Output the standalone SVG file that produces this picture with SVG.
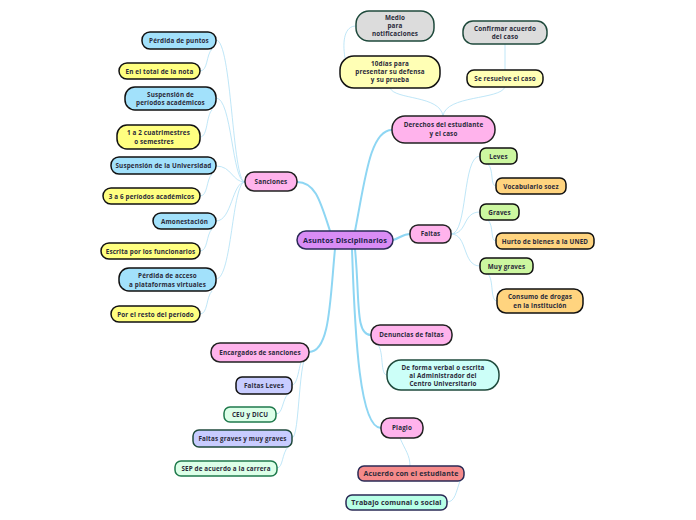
<svg xmlns="http://www.w3.org/2000/svg" width="696" height="520" viewBox="0 0 696 520">
<style>
.n rect{stroke-width:1.5}
text{font-family:"Open Sans","Liberation Sans",sans-serif;font-size:6.3px;font-weight:700;fill:#2a2a3a;text-anchor:middle;letter-spacing:0.15px}
.pk{fill:#ffb3ec;stroke:#222}
.bl{fill:#a2e1fb;stroke:#111}
.yl{fill:#ffff80;stroke:#111}
.py{fill:#ffffb5;stroke:#111}
.gr{fill:#dcdcdc;stroke:#1f4a3c}
.lg{fill:#ccf7a0;stroke:#111}
.or{fill:#ffd47f;stroke:#111}
.cy{fill:#ccfff8;stroke:#1f4a3c}
.sa{fill:#f58a8a;stroke:#2a2a55}
.mt{fill:#b8ffe6;stroke:#2a2a55}
.lv{fill:#c8ccff;stroke:#111}
.lv2{fill:#c8ccff;stroke:#1f4a3c}
.pg{fill:#dcffe8;stroke:#1f7a4c}
.c path{fill:none;stroke:#aee0f5;stroke-width:0.8}
.c .m{stroke:#8ed6f3;stroke-width:2}
</style>
<g class="c" id="connectors">
<path class="m" d="M330,231 C320,200 315,182 297,182"/>
<path class="m" d="M355,231 C365,180 370,130 392,130"/>
<path class="m" d="M393,240 C400,238 403,234 410,234"/>
<path class="m" d="M355,249 C360,300 355,335 371,335"/>
<path class="m" d="M352,249 C355,340 360,428 381,428"/>
<path class="m" d="M335,249 C330,300 330,352 309,352"/>
<path d="M245,182 C232,182 232,40 216,40"/>
<path d="M245,182 C232,182 232,98 216,98"/>
<path d="M245,182 C232,182 232,166 216,166"/>
<path d="M245,182 C232,182 232,221 216,221"/>
<path d="M245,182 C232,182 232,279 216,279"/>
<path d="M212,49 C206,55 208,71 200,71"/>
<path d="M212,110 C206,116 208,137 200,137"/>
<path d="M212,174 C206,180 208,196 200,196"/>
<path d="M212,229 C206,235 208,251 200,251"/>
<path d="M212,291 C206,297 208,314 200,314"/>
<path d="M443,116 C440,95 395,100 390,88"/>
<path d="M443,116 C446,95 500,100 505,87"/>
<path d="M345,58 C342,40 345,26 356,26"/>
<path d="M505,44 L505,70"/>
<path d="M451,234 C468,234 462,156 480,156"/>
<path d="M451,234 C468,234 462,212 480,212"/>
<path d="M451,234 C468,234 462,266 480,266"/>
<path d="M488,164 C494,170 490,186 496,186"/>
<path d="M488,220 C494,226 490,241 496,241"/>
<path d="M488,274 C494,280 490,301 497,301"/>
<path d="M378,345 C384,352 380,375 387,375"/>
<path d="M400,438 C405,450 410,455 410,466"/>
<path d="M460,481 C456,492 455,502 447,502"/>
<path d="M309,352 C298,352 300,385 292,385"/>
<path d="M309,352 C298,352 300,438 292,438"/>
<path d="M288,394 C282,400 283,414 276,414"/>
<path d="M288,447 C282,453 283,468 277,468"/>
</g>
<g id="center" class="n"><rect x="297" y="231" width="96" height="18" rx="9" fill="#d98cf5" stroke="#2a2a55"/><text x="345" y="243" style="font-size:7.3px;fill:#22224a">Asuntos Disciplinarios</text></g>
<g id="sanciones" class="n"><rect class="pk" x="245" y="172" width="52" height="19" rx="9"/><text x="271" y="184">Sanciones</text></g>
<g id="perdida-puntos" class="n"><rect class="bl" x="142" y="32" width="74" height="17" rx="8"/><text x="179" y="43">Pérdida de puntos</text></g>
<g id="total-nota" class="n"><rect class="yl" x="119" y="63" width="81" height="16" rx="8"/><text x="159.5" y="74">En el total de la nota</text></g>
<g id="susp-periodos" class="n"><rect class="bl" x="125" y="87" width="91" height="23" rx="10"/><text x="170.5" y="97">Suspensión de</text><text x="170.5" y="105">períodos académicos</text></g>
<g id="cuatrimestres" class="n"><rect class="yl" x="117" y="125" width="83" height="24" rx="10"/><text x="158.5" y="135">1 a 2 cuatrimestres</text><text x="154" y="144">o semestres</text></g>
<g id="susp-univ" class="n"><rect class="bl" x="111" y="157" width="105" height="17" rx="8"/><text x="163.5" y="168">Suspensión de la Universidad</text></g>
<g id="seis-periodos" class="n"><rect class="yl" x="103" y="188" width="97" height="16" rx="8"/><text x="151.5" y="199">3 a 6 períodos académicos</text></g>
<g id="amonestacion" class="n"><rect class="bl" x="153" y="213" width="63" height="16" rx="8"/><text x="184.5" y="224">Amonestación</text></g>
<g id="escrita" class="n"><rect class="yl" x="101" y="243" width="99" height="16" rx="8"/><text x="150.5" y="254">Escrita por los funcionarios</text></g>
<g id="perdida-acceso" class="n"><rect class="bl" x="119" y="268" width="97" height="23" rx="10"/><text x="167.5" y="278">Pérdida de acceso</text><text x="167.5" y="287">a plataformas virtuales</text></g>
<g id="resto-periodo" class="n"><rect class="yl" x="111" y="306" width="89" height="16" rx="8"/><text x="155.5" y="317">Por el resto del período</text></g>
<g id="derechos" class="n"><rect class="pk" x="392" y="116" width="103" height="27" rx="13"/><text x="443.5" y="127">Derechos del estudiante</text><text x="443.5" y="136">y el caso</text></g>
<g id="diez-dias" class="n"><rect class="py" x="340" y="56" width="100" height="32" rx="14"/><text x="390" y="66">10días para</text><text x="390" y="74">presentar su defensa</text><text x="390" y="82">y su prueba</text></g>
<g id="medio" class="n"><rect class="gr" x="356" y="11" width="78" height="30" rx="13"/><text x="395" y="20">Medio</text><text x="395" y="28">para</text><text x="395" y="36">notificaciones</text></g>
<g id="confirmar" class="n"><rect class="gr" x="463" y="21" width="84" height="23" rx="10"/><text x="505" y="31">Confirmar acuerdo</text><text x="505" y="39">del caso</text></g>
<g id="se-resuelve" class="n"><rect class="py" x="467" y="70" width="76" height="17" rx="7"/><text x="505" y="81">Se resuelve el caso</text></g>
<g id="faltas" class="n"><rect class="pk" x="410" y="225" width="41" height="18" rx="8"/><text x="430.5" y="236">Faltas</text></g>
<g id="leves" class="n"><rect class="lg" x="480" y="148" width="37" height="16" rx="6"/><text x="498.5" y="159">Leves</text></g>
<g id="vocabulario" class="n"><rect class="or" x="496" y="178" width="70" height="16" rx="6"/><text x="531" y="189">Vocabulario soez</text></g>
<g id="graves" class="n"><rect class="lg" x="480" y="204" width="39" height="16" rx="6"/><text x="499.5" y="215">Graves</text></g>
<g id="hurto" class="n"><rect class="or" x="496" y="233" width="98" height="16" rx="6"/><text x="545" y="244">Hurto de bienes a la UNED</text></g>
<g id="muy-graves" class="n"><rect class="lg" x="480" y="258" width="53" height="16" rx="6"/><text x="506.5" y="269">Muy graves</text></g>
<g id="consumo" class="n"><rect class="or" x="497" y="289" width="86" height="24" rx="9"/><text x="540" y="299">Consumo de drogas</text><text x="540" y="308">en la institución</text></g>
<g id="denuncias" class="n"><rect class="pk" x="371" y="325" width="81" height="20" rx="9"/><text x="411.5" y="337">Denuncias de faltas</text></g>
<g id="forma-verbal" class="n"><rect class="cy" x="387" y="360" width="112" height="30" rx="14"/><text x="443" y="370">De forma verbal o escrita</text><text x="443" y="378">al Administrador del</text><text x="443" y="386">Centro Universitario</text></g>
<g id="plagio" class="n"><rect class="pk" x="381" y="418" width="42" height="20" rx="9"/><text x="402" y="430">Plagio</text></g>
<g id="acuerdo" class="n"><rect class="sa" x="358" y="466" width="106" height="15" rx="6"/><text x="411" y="476" style="font-size:7px">Acuerdo con el estudiante</text></g>
<g id="trabajo" class="n"><rect class="mt" x="346" y="495" width="101" height="15" rx="6"/><text x="396.5" y="505" style="font-size:7px">Trabajo comunal o social</text></g>
<g id="encargados" class="n"><rect class="pk" x="211" y="343" width="98" height="19" rx="9"/><text x="260" y="355">Encargados de sanciones</text></g>
<g id="faltas-leves" class="n"><rect class="lv" x="236" y="377" width="56" height="17" rx="6"/><text x="264" y="388">Faltas Leves</text></g>
<g id="ceu" class="n"><rect class="pg" x="224" y="407" width="52" height="15" rx="6"/><text x="250" y="417">CEU y DICU</text></g>
<g id="faltas-graves" class="n"><rect class="lv2" x="193" y="430" width="99" height="17" rx="6"/><text x="242.5" y="441">Faltas graves y muy graves</text></g>
<g id="sep" class="n"><rect class="pg" x="175" y="461" width="102" height="15" rx="6"/><text x="226" y="471">SEP de acuerdo a la carrera</text></g>
</svg>
